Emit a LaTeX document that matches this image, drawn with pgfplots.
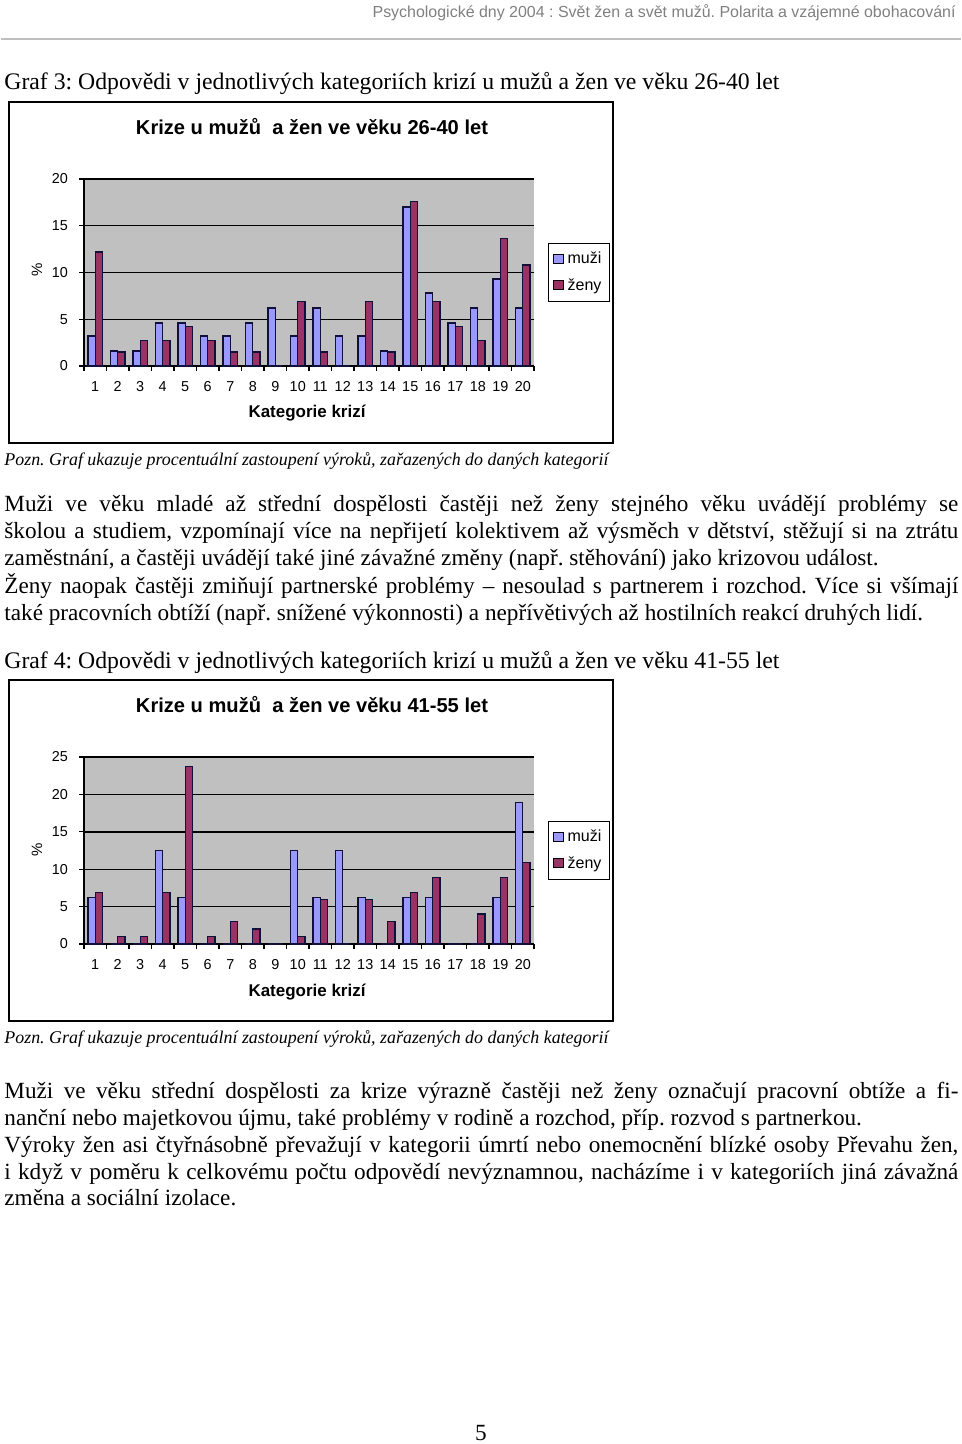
\documentclass[border=0pt]{standalone}
\usepackage{fontspec}
\setmainfont{Liberation Serif}
\newfontfamily\arialfont{Liberation Sans}
\usepackage{graphicx}
\usepackage{pgfplots}
\pgfplotsset{compat=1.18}
\definecolor{muzi}{HTML}{9999FF}
\definecolor{zeny}{HTML}{993366}
\definecolor{plotgray}{HTML}{C0C0C0}
\definecolor{edge}{HTML}{10103A}
\definecolor{hdrgray}{HTML}{808080}
\frenchspacing

\pgfplotsset{krize/.style={
  scale only axis, width=225pt, height=93.5pt, anchor=south west,
  xmin=0.5, xmax=20.5, ymin=0,
  ybar=0pt, bar width=3.6pt,
  axis lines=left, axis line style={-, black, line width=0.7pt},
  axis background/.style={fill=plotgray},
  ymajorgrids, grid style={black, line width=0.7pt},
  xtick={1,...,20},
  minor xtick={0.5,1.5,...,20.5},
  major x tick style={draw=none},
  tick align=outside, major tick length=2.5pt, minor tick length=2.5pt,
  every tick/.style={black, line width=0.6pt},
  /pgf/number format/assume math mode=true,
  tick label style={font=\arialfont\fontsize{7.2}{8}\selectfont},
  x tick label style={text height=5.5pt, text depth=0pt, yshift=-1pt},
  y tick label style={xshift=-2pt},
  clip=false,
  legend style={at={(1,0.5)}, anchor=west, xshift=7pt, draw=black, line width=0.6pt,
    fill=white, font=\arialfont\fontsize{8}{9}\selectfont, inner sep=2pt,
    row sep=2pt, legend cell align=left},
  legend image code/.code={\draw[#1, draw=black, line width=0.5pt] (0pt,-2pt) rectangle (5pt,2.5pt);},
}}

\pgfplotstableread{
cat muzi zeny
1 3.2 12.2
2 1.6 1.5
3 1.6 2.7
4 4.6 2.7
5 4.6 4.2
6 3.2 2.7
7 3.2 1.5
8 4.6 1.5
9 6.2 0
10 3.2 6.9
11 6.2 1.5
12 3.2 0
13 3.2 6.9
14 1.6 1.5
15 17.0 17.6
16 7.8 6.9
17 4.6 4.2
18 6.2 2.7
19 9.3 13.6
20 6.2 10.8
}\tabA

\pgfplotstableread{
cat muzi zeny
1 6.2 6.9
2 0 1.0
3 0 1.0
4 12.5 6.9
5 6.2 23.7
6 0 1.0
7 0 3.0
8 0 2.0
9 0 0
10 12.5 1.0
11 6.2 5.9
12 12.5 0
13 6.2 5.9
14 0 3.0
15 6.2 6.9
16 6.2 8.9
17 0 0
18 0 4.0
19 6.2 8.9
20 18.9 10.9
}\tabB

\begin{document}
\begin{tikzpicture}
\path (0,0) rectangle (480pt,-722pt);
\begin{scope}[x=0.5pt,y=-0.5pt]
  % header
  \node[anchor=base east, inner sep=0pt, text=hdrgray] at (955,18)
    {\resizebox{291.5pt}{!}{\arialfont\fontsize{9}{10}\selectfont Psychologické dny 2004 : Svět žen a svět mužů. Polarita a vzájemné obohacování}};
  \draw[black!25, line width=1pt] (0,39) -- (960,39);
  % heading 1
  \node[anchor=base west, inner sep=0pt] at (3,90)
    {\resizebox{387.5pt}{!}{\fontsize{11}{13}\selectfont Graf 3: Odpovědi v jednotlivých kategoriích krizí u mužů a žen ve věku 26-40 let}};
  % chart frame 1
  \draw[black, line width=0.8pt] (8,102) rectangle (612,443);
  \node[inner sep=0pt] at (311,127)
    {\resizebox{176pt}{!}{\arialfont\bfseries\fontsize{9}{10}\selectfont Krize u mužů\ \ a žen ve věku 26-40 let}};
  \node[inner sep=0pt, rotate=90] at (36,270) {\arialfont\fontsize{7.5}{8}\selectfont \%};
  \node[inner sep=0pt] at (306,413)
    {\resizebox{58.5pt}{!}{\arialfont\bfseries\fontsize{8}{9}\selectfont Kategorie krizí}};
  \node[anchor=base west, inner sep=0pt] at (3,465)
    {\resizebox{302pt}{!}{\itshape\fontsize{9}{10}\selectfont Pozn. Graf ukazuje procentuální zastoupení výroků, zařazených do daných kategorií}};
  % paragraph 1
  \begin{scope}[every node/.style={anchor=base west, inner sep=0pt, font=\fontsize{11.6}{13}\selectfont}]
  \node at (3,511) {\makebox[477pt][s]{Muži ve věku mladé až střední dospělosti častěji než ženy stejného věku uvádějí problémy se}};
  \node at (3,538) {\makebox[477pt][s]{školou a studiem, vzpomínají více na nepřijetí kolektivem až výsměch v dětství, stěžují si na ztrátu}};
  \node at (3,565) {zaměstnání, a častěji uvádějí také jiné závažné změny (např. stěhování) jako krizovou událost.};
  \node at (3,593) {\makebox[477pt][s]{Ženy naopak častěji zmiňují partnerské problémy – nesoulad s partnerem i rozchod. Více si všímají}};
  \node at (3,620) {také pracovních obtíží (např. snížené výkonnosti) a nepřívětivých až hostilních reakcí druhých lidí.};
  \end{scope}
  % heading 2
  \node[anchor=base west, inner sep=0pt] at (3,668)
    {\resizebox{387.5pt}{!}{\fontsize{11}{13}\selectfont Graf 4: Odpovědi v jednotlivých kategoriích krizí u mužů a žen ve věku 41-55 let}};
  \draw[black, line width=0.8pt] (8,680) rectangle (612,1021);
  \node[inner sep=0pt] at (311,705)
    {\resizebox{176pt}{!}{\arialfont\bfseries\fontsize{9}{10}\selectfont Krize u mužů\ \ a žen ve věku 41-55 let}};
  \node[inner sep=0pt, rotate=90] at (36,850) {\arialfont\fontsize{7.5}{8}\selectfont \%};
  \node[inner sep=0pt] at (306,992)
    {\resizebox{58.5pt}{!}{\arialfont\bfseries\fontsize{8}{9}\selectfont Kategorie krizí}};
  \node[anchor=base west, inner sep=0pt] at (3,1043)
    {\resizebox{302pt}{!}{\itshape\fontsize{9}{10}\selectfont Pozn. Graf ukazuje procentuální zastoupení výroků, zařazených do daných kategorií}};
  \begin{scope}[every node/.style={anchor=base west, inner sep=0pt, font=\fontsize{11.6}{13}\selectfont}]
  \node at (3,1098) {\makebox[477pt][s]{Muži ve věku střední dospělosti za krize výrazně častěji než ženy označují pracovní obtíže a fi-}};
  \node at (3,1125) {nanční nebo majetkovou újmu, také problémy v rodině a rozchod, příp. rozvod s partnerkou.};
  \node at (3,1152) {\makebox[477pt][s]{Výroky žen asi čtyřnásobně převažují v kategorii úmrtí nebo onemocnění blízké osoby Převahu žen,}};
  \node at (3,1179) {\makebox[477pt][s]{i když v poměru k celkovému počtu odpovědí nevýznamnou, nacházíme i v kategoriích jiná závažná}};
  \node at (3,1205) {změna a sociální izolace.};
  \end{scope}
  \node[anchor=base, inner sep=0pt, font=\fontsize{11.6}{13}\selectfont] at (480,1440) {5};
\end{scope}

\begin{axis}[krize, at={(41.5pt,-183pt)}, ymax=20, ytick={0,5,10,15,20}]
  \addplot[fill=muzi, draw=edge, line width=0.6pt] table[x=cat, y=muzi] {\tabA};
  \addplot[fill=zeny, draw=edge, line width=0.6pt] table[x=cat, y=zeny] {\tabA};
  \legend{muži, ženy}
\end{axis}

\begin{axis}[krize, at={(41.5pt,-472pt)}, ymax=25, ytick={0,5,10,15,20,25}]
  \addplot[fill=muzi, draw=edge, line width=0.6pt] table[x=cat, y=muzi] {\tabB};
  \addplot[fill=zeny, draw=edge, line width=0.6pt] table[x=cat, y=zeny] {\tabB};
  \legend{muži, ženy}
\end{axis}
\end{tikzpicture}
\end{document}
